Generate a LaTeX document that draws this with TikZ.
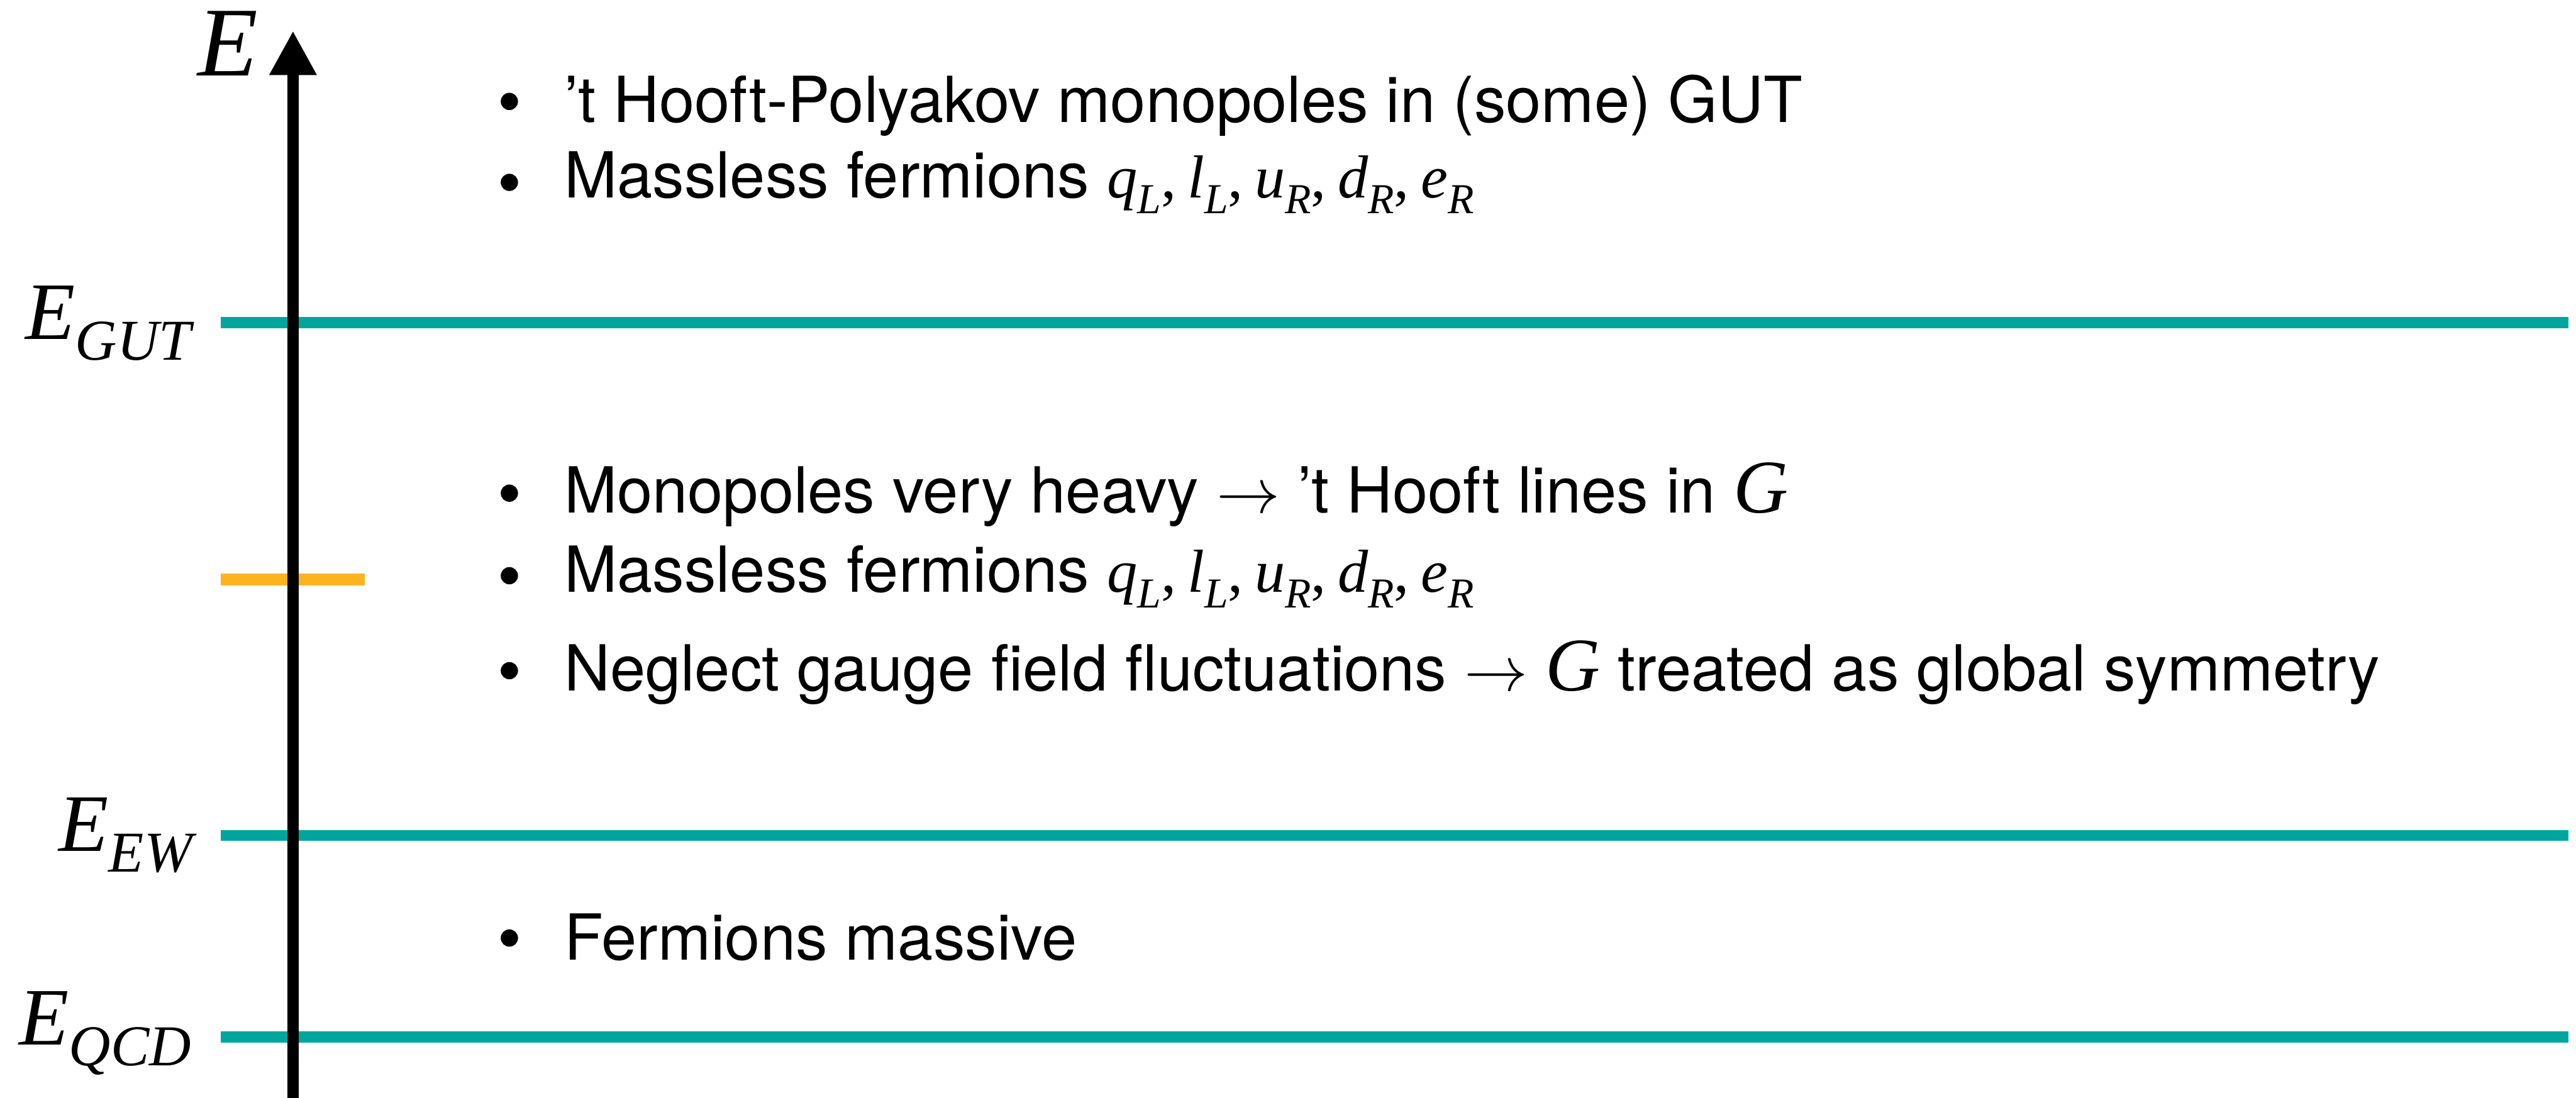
\RequirePackage{fix-cm}
\documentclass[tikz,border=0pt]{standalone}
\usepackage{fontspec}
\setmainfont{TeX Gyre Heros}
\newfontfamily\tms{Liberation Serif}
\usetikzlibrary{arrows.meta}
\definecolor{lvlteal}{RGB}{0,166,158}
\definecolor{lvlorange}{RGB}{251,180,30}
% math-like italic letters (Times style)
\newcommand\mi[1]{{\fontsize{32}{36}\selectfont\tms\itshape #1}}
\newcommand\bigG{{\fontsize{40}{44}\selectfont\tms\itshape G}}
\newcommand\bsub[1]{\raisebox{-0.29cm}{\fontsize{22.5}{24}\selectfont\tms\itshape #1}}
\newcommand\mc{{\fontsize{32}{36}\selectfont\tms ,}\hspace{0.18em}}
\newcommand\lsub[1]{\raisebox{-0.38cm}{\fontsize{30.5}{32}\selectfont\tms\itshape #1}}
\newcommand\fermions{\mi{q}\bsub{L}\mc\mi{l}\bsub{L}\mc\mi{u}\bsub{R}\mc\mi{d}\bsub{R}\mc\mi{e}\bsub{R}}
\newcommand\toarrow{{\fontsize{33.5}{40}\selectfont$\rightarrow$}}
\tikzset{
  level/.style={line width=0.2cm, lvlteal},
  scaletick/.style={line width=0.22cm, lvlorange},
  axisline/.style={line width=0.21cm, black, -{Triangle[width=0.82cm,length=0.82cm]}},
  bodytext/.style={anchor=base west, inner sep=0pt, font=\fontsize{33.5}{40}\selectfont},
  bulletdot/.style={circle, fill=black, inner sep=0pt, minimum size=0.32cm},
  lvllabel/.style={anchor=base east, inner sep=0pt, font=\fontsize{43}{48}\selectfont\tms\itshape},
}
\begin{document}
\begin{tikzpicture}
\useasboundingbox[fill=white] (0,0) rectangle (47.74,-20.35);
% coordinates
\coordinate (gutL) at (4.09,-5.98);  \coordinate (gutR) at (47.60,-5.98);
\coordinate (ewL)  at (4.09,-15.48); \coordinate (ewR)  at (47.60,-15.48);
\coordinate (qcdL) at (4.09,-19.22); \coordinate (qcdR) at (47.60,-19.22);
\coordinate (orL)  at (4.09,-10.74); \coordinate (orR)  at (6.76,-10.74);
\coordinate (axB)  at (5.43,-20.40); \coordinate (axT)  at (5.43,-0.57);
% level lines
\draw[level] (gutL) -- (gutR);
\draw[level] (ewL) -- (ewR);
\draw[level] (qcdL) -- (qcdR);
\draw[scaletick] (orL) -- (orR);
% axis
\draw[axisline] (axB) -- (axT);
% labels
\node[lvllabel, font=\fontsize{52}{56}\selectfont\tms\itshape] (Etop) at (4.79,-1.41) {E};
\node[lvllabel] (Egut) at (3.55,-6.29) {E\lsub{GUT}};
\node[lvllabel] (Eew)  at (3.57,-15.78) {E\lsub{EW}};
\node[lvllabel] (Eqcd) at (3.55,-19.37) {E\lsub{QCD}};
% bullets
\node[bulletdot] (b1) at (9.44,-1.88) {};
\node[bulletdot] (b2) at (9.44,-3.38) {};
\node[bulletdot] (b3) at (9.44,-9.14) {};
\node[bulletdot] (b4) at (9.44,-10.67) {};
\node[bulletdot] (b5) at (9.44,-12.43) {};
\node[bulletdot] (b6) at (9.44,-17.385) {};
% texts
\node[bodytext] (t1) at (10.45,-2.27) {’t Hooft-Polyakov monopoles in (some) GUT};
\node[bodytext] (t2) at (10.45,-3.67) {Massless fermions \fermions};
\node[bodytext] (t3) at (10.45,-9.505) {Monopoles very heavy \toarrow\ ’t Hooft lines in \bigG};
\node[bodytext] (t4) at (10.45,-10.97) {Massless fermions \fermions};
\node[bodytext] (t5) at (10.45,-12.80) {Neglect gauge field fluctuations \toarrow\ \bigG\ treated as global symmetry};
\node[bodytext] (t6) at (10.45,-17.79) {Fermions massive};
\end{tikzpicture}
\end{document}
